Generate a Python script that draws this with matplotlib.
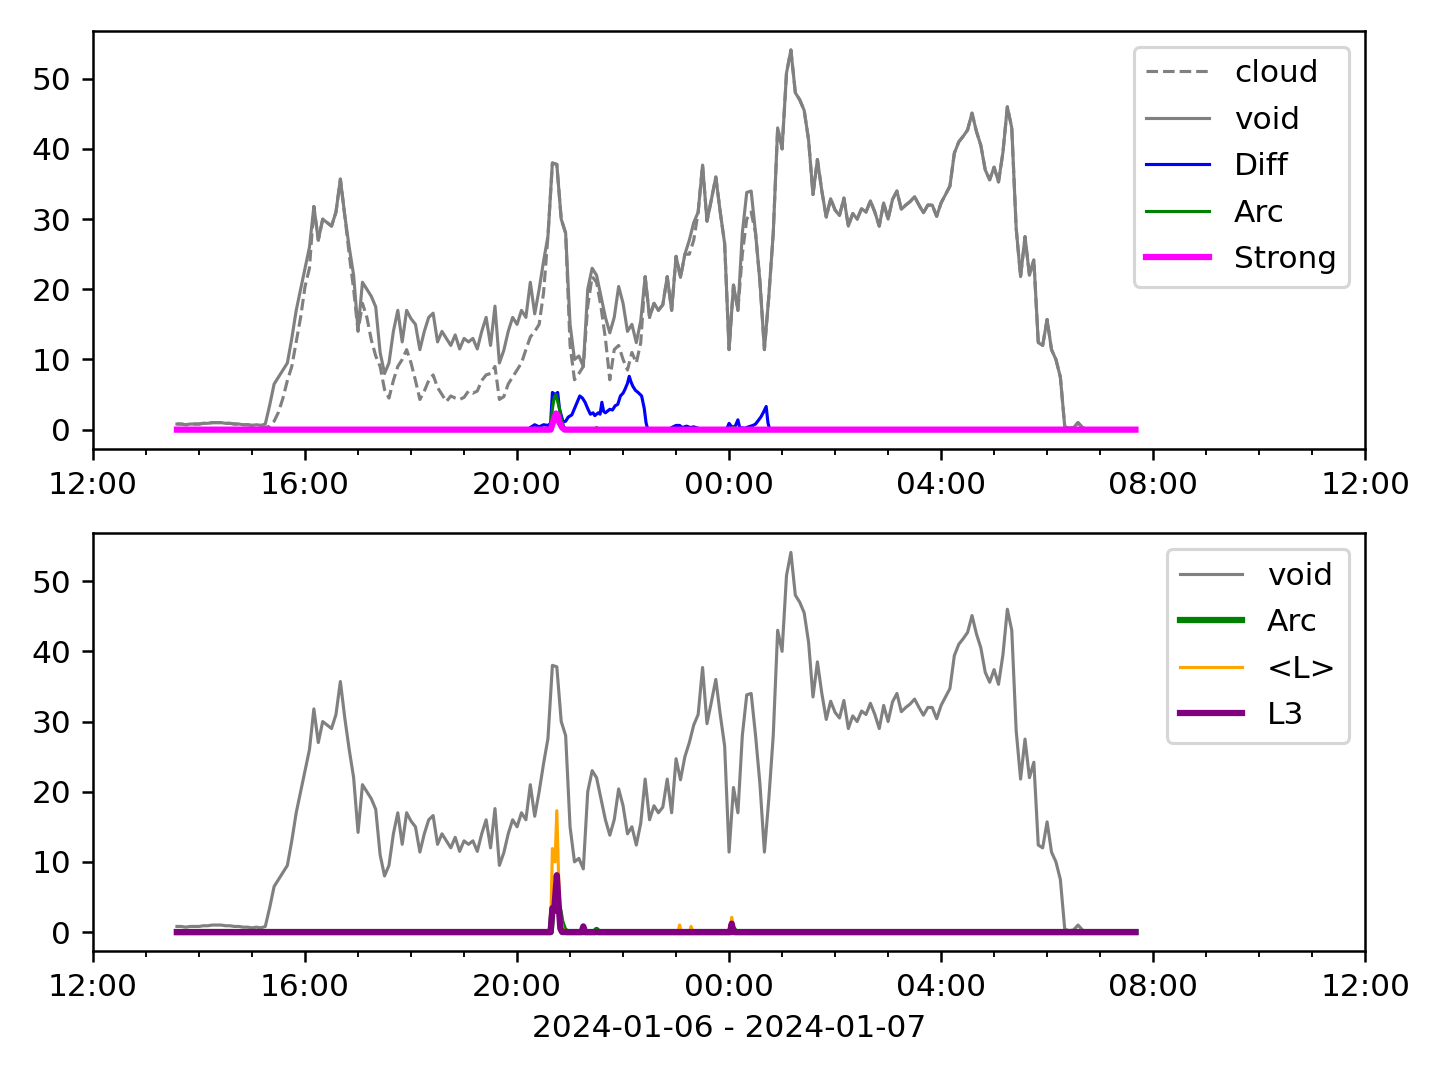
import matplotlib
matplotlib.use("Agg")
from matplotlib import pyplot as plt
import matplotlib.dates as mdates
import pandas as pd

DAY1 = "2024-01-06"
DAY2 = "2024-01-07"
T_START = "13:35"
T_END = "07:40"

# 5 minute grid, 13:35 -> 07:40
grid = pd.date_range(f"{DAY1} {T_START}", f"{DAY2} {T_END}", freq="5min")

void = [
    0.8, 0.8, 0.7, 0.8, 0.8,
    0.8, 0.9, 0.9, 1.0, 1.0, 1.0, 0.9, 0.9, 0.8, 0.8, 0.7, 0.7,
    0.6, 0.7, 0.6, 0.8, 3.5, 6.5, 7.5, 8.5, 9.5, 13.0, 17.0, 20.0,
    23.0, 26.0, 31.8, 27.0, 30.0, 29.5, 29.0, 31.0, 35.7, 30.5, 26.0, 22.0,
    14.2, 21.0, 20.0, 19.0, 17.5, 11.0, 8.0, 9.5, 14.0, 17.0, 12.5, 17.0,
    15.8, 15.0, 11.4, 14.0, 16.0, 16.6, 12.5, 14.0, 13.0, 12.0, 13.5, 11.5,
    13.0, 12.5, 13.0, 11.5, 14.0, 16.0, 12.0, 17.6, 9.5, 11.3, 14.0, 16.0,
    15.0, 17.0, 16.0, 21.0, 16.5, 20.0, 24.0, 27.6, 38.0, 37.8, 30.0, 28.0,
    15.0, 10.0, 10.5, 9.0, 20.0, 23.0, 22.0, 19.0, 16.0, 13.8, 16.0, 20.4,
    18.0, 14.0, 15.0, 12.4, 15.5, 21.8, 16.0, 18.0, 17.0, 17.8, 21.8, 17.0,
    24.7, 21.7, 25.0, 27.0, 29.5, 31.0, 37.7, 29.7, 32.8, 36.0, 31.0, 26.5,
    11.4, 20.6, 17.0, 28.0, 33.8, 34.0, 28.0, 21.0, 11.4, 19.0, 28.0, 43.0,
    40.0, 50.8, 54.1, 48.0, 47.0, 45.5, 41.3, 33.5, 38.5, 34.0, 30.3, 32.9,
    31.3, 30.5, 33.0, 29.0, 30.8, 30.0, 31.5, 31.0, 32.6, 31.0, 29.0, 32.3,
    30.0, 32.8, 34.0, 31.4, 32.0, 32.5, 33.2, 32.0, 30.9, 32.0, 32.0, 30.4,
    32.3, 33.5, 34.7, 39.4, 41.0, 41.8, 42.7, 45.1, 42.5, 40.5, 37.0, 35.6,
    37.4, 35.3, 39.5, 46.0, 43.0, 28.7, 21.8, 27.5, 22.0, 24.2, 12.4, 12.0,
    15.7, 11.4, 10.0, 7.5, 0.4, 0.2, 0.3, 1.0, 0.3, 0.0, 0.0, 0.0,
    0.0, 0.0, 0.0, 0.0, 0.0, 0.0, 0.0, 0.0, 0.0,
]

# where cloud differs from void
cloud_t = [
    "15:15", "15:20", "15:25", "15:30", "15:35", "15:40", "15:45", "15:50", "15:55", "16:00", "16:05",
    "16:50", "16:55", "17:00", "17:05", "17:10", "17:15", "17:20", "17:25", "17:30", "17:35", "17:40",
    "17:45", "17:50", "17:55", "18:00", "18:05", "18:10", "18:15", "18:20", "18:25", "18:30", "18:35",
    "18:40", "18:45", "18:50", "18:55", "19:00", "19:05", "19:10", "19:15", "19:20", "19:25", "19:30",
    "19:35", "19:40", "19:45", "19:50", "19:55", "20:00", "20:05", "20:10", "20:15", "20:20", "20:25",
    "20:30",
    "21:00", "21:05", "21:10", "21:15", "21:20", "21:25", "21:30", "21:35", "21:40", "21:45", "21:50",
    "21:55", "22:00", "22:05", "22:10", "22:15", "22:20",
    "23:15", "23:20", "00:15", "00:20", "00:25",
]
cloud_v = [
    0.3, 0.5, 1.2, 2.5, 4.5, 7.0, 9.0, 12.5, 16.0, 20.4, 23.0,
    25.0, 20.0, 14.0, 18.0, 16.0, 12.8, 10.5, 9.0, 5.7, 4.5, 7.0,
    9.0, 10.0, 11.4, 9.5, 7.0, 4.3, 5.5, 7.0, 7.8, 6.0, 5.0,
    4.0, 4.8, 4.5, 4.3, 4.6, 5.5, 5.2, 5.5, 7.0, 7.8, 8.0,
    9.0, 4.3, 4.7, 6.5, 7.5, 8.5, 9.5, 11.4, 13.2, 14.0, 15.0,
    19.5,
    12.0, 7.1, 8.0, 9.0, 17.6, 21.8, 21.0, 17.5, 13.0, 7.1, 11.4,
    12.0, 10.0, 8.5, 11.0, 9.5, 12.4,
    25.0, 27.0, 25.0, 30.0, 31.0,
]

# the detector series sit at 0 from T_START to T_END apart from these stretches
diff_t = [
    "20:12", "20:15", "20:20", "20:25", "20:30", "20:35", "20:38", "20:40", "20:43", "20:46", "20:48",
    "20:52", "20:55", "20:58", "21:02", "21:05", "21:08", "21:11", "21:14", "21:17", "21:20", "21:23",
    "21:26", "21:28", "21:32", "21:34", "21:36", "21:38", "21:40", "21:45", "21:48", "21:51", "21:54",
    "21:57", "22:00", "22:02", "22:05", "22:07", "22:09", "22:11", "22:14", "22:17", "22:21", "22:24",
    "22:26", "22:28",
    "22:52", "22:55", "23:00", "23:04", "23:07", "23:12", "23:16", "23:20", "23:25", "23:28",
    "23:57", "00:00", "00:03", "00:07", "00:10", "00:12", "00:18", "00:22", "00:27", "00:30", "00:33",
    "00:36", "00:39", "00:42", "00:44", "00:46",
]
diff_v = [
    0.0, 0.3, 0.7, 0.4, 0.7, 0.6, 0.9, 5.3, 5.0, 5.3, 3.0,
    1.1, 1.2, 1.8, 2.1, 3.0, 3.9, 4.8, 4.5, 3.9, 3.0, 2.2,
    2.4, 2.0, 2.4, 2.2, 3.9, 2.6, 2.4, 2.9, 2.8, 3.4, 3.6,
    4.8, 5.2, 5.7, 6.6, 7.6, 6.8, 6.2, 5.6, 5.3, 4.8, 3.0,
    1.0, 0.0,
    0.0, 0.3, 0.6, 0.6, 0.3, 0.5, 0.3, 0.4, 0.2, 0.0,
    0.0, 0.9, 0.4, 0.5, 1.4, 0.3, 0.2, 0.4, 0.6, 0.8, 1.3,
    1.8, 2.5, 3.3, 1.0, 0.0,
]

arc_t = ["20:38", "20:40", "20:42", "20:44", "20:46", "20:48", "20:50", "20:53", "20:56",
         "21:28", "21:30", "21:32", "00:03", "00:05", "00:07"]
arc_v = [0.0, 3.0, 4.5, 5.0, 4.0, 3.0, 1.5, 0.4, 0.0,
         0.0, 0.3, 0.0, 0.0, 0.4, 0.0]

strong_t = ["20:38", "20:41", "20:44", "20:46", "20:48", "20:51", "20:54"]
strong_v = [0.0, 1.2, 2.3, 2.0, 1.0, 0.3, 0.0]

lavg_t = ["20:38", "20:40", "20:43", "20:45", "20:47", "20:49", "20:52", "20:55",
          "21:13", "21:15", "21:17", "23:02", "23:04", "23:06", "23:15", "23:17", "23:19",
          "00:01", "00:03", "00:05", "00:07"]
lavg_v = [0.0, 11.9, 10.0, 17.3, 8.0, 2.0, 0.4, 0.0,
          0.0, 1.0, 0.0, 0.0, 1.0, 0.0, 0.0, 0.8, 0.0,
          0.0, 2.1, 0.5, 0.0]

l3_t = ["20:38", "20:40", "20:42", "20:45", "20:47", "20:49", "20:51",
        "21:13", "21:15", "21:17", "00:01", "00:03", "00:05"]
l3_v = [0.0, 3.4, 3.0, 8.1, 4.0, 0.5, 0.0,
        0.0, 0.8, 0.0, 0.0, 1.2, 0.0]


def stamp(hhmm):
    day = DAY1 if int(hhmm[:2]) >= 12 else DAY2
    return pd.Timestamp(f"{day} {hhmm}")


def detector_series(times, values):
    idx = [stamp(T_START)] + [stamp(t) for t in times] + [stamp(T_END)]
    return pd.Series([0.0] + list(values) + [0.0], index=idx)


void_s = pd.Series(void, index=grid)
cloud_s = void_s.copy()
cloud_s.loc[[stamp(t) for t in cloud_t]] = cloud_v

diff_s = detector_series(diff_t, diff_v)
arc_s = detector_series(arc_t, arc_v)
strong_s = detector_series(strong_t, strong_v)
lavg_s = detector_series(lavg_t, lavg_v)
l3_s = detector_series(l3_t, l3_v)

fig, (ax1, ax2) = plt.subplots(2, 1, figsize=(6.4, 4.8), dpi=225)

ax1.plot(cloud_s.index, cloud_s.values, color="gray", linestyle="--", lw=1, label="cloud")
ax1.plot(void_s.index, void_s.values, color="gray", lw=1, label="void")
ax1.plot(diff_s.index, diff_s.values, color="blue", lw=1, label="Diff")
ax1.plot(arc_s.index, arc_s.values, color="green", lw=1, label="Arc")
ax1.plot(strong_s.index, strong_s.values, color="magenta", lw=2, label="Strong")
ax1.legend(loc="upper right", labelspacing=0.56)

ax2.plot(void_s.index, void_s.values, color="gray", lw=1, label="void")
ax2.plot(arc_s.index, arc_s.values, color="green", lw=2, label="Arc")
ax2.plot(lavg_s.index, lavg_s.values, color="orange", lw=1, label="<L>")
ax2.plot(l3_s.index, l3_s.values, color="purple", lw=2, label="L3")
ax2.legend(loc="upper right", labelspacing=0.56)
ax2.set_xlabel(f"{DAY1} - {DAY2}")

for ax in (ax1, ax2):
    ax.set_xlim(pd.Timestamp(f"{DAY1} 12:00"), pd.Timestamp(f"{DAY2} 12:00"))
    ax.xaxis.set_major_locator(mdates.HourLocator(interval=4))
    ax.xaxis.set_minor_locator(mdates.HourLocator())
    ax.xaxis.set_major_formatter(mdates.DateFormatter("%H:%M"))

plt.subplots_adjust(left=0.0646, right=0.948, top=0.9713, bottom=0.1194, hspace=0.203)
plt.savefig("out.png")
